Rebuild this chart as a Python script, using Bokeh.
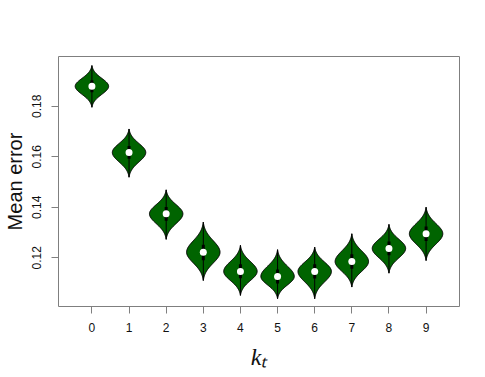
import numpy as np
from bokeh.plotting import figure
from bokeh.models import FixedTicker, Range1d
from bokeh.embed import file_html
from bokeh.resources import INLINE

# ---- data ----
k_values = [0, 1, 2, 3, 4, 5, 6, 7, 8, 9]
medians = [0.1879, 0.1617, 0.1374, 0.1222, 0.1146, 0.1126, 0.1146, 0.1185, 0.1237, 0.1295]
lows    = [0.1796, 0.1519, 0.1273, 0.1110, 0.1051, 0.1038, 0.1038, 0.1084, 0.1139, 0.1189]
highs   = [0.1961, 0.1710, 0.1469, 0.1341, 0.1249, 0.1232, 0.1242, 0.1295, 0.1332, 0.1400]
q1s     = [0.1855, 0.1592, 0.1347, 0.1190, 0.1119, 0.1098, 0.1118, 0.1156, 0.1210, 0.1266]
q3s     = [0.1903, 0.1643, 0.1401, 0.1252, 0.1174, 0.1154, 0.1174, 0.1214, 0.1264, 0.1324]
y_ticks = [0.12, 0.14, 0.16, 0.18]
y_tick_labels = ["0.12", "0.14", "0.16", "0.18"]

HALF_W = 0.45
GREEN = "#006400"

p = figure(frame_width=401, frame_height=250,
           output_backend="svg", toolbar_location=None,
           x_range=Range1d(-0.9, 9.9), y_range=Range1d(0.1007, 0.1997),
           min_border_left=56, min_border_top=56, min_border_right=20, min_border_bottom=63)

# violin outlines built from each violin's low/median/high
xs, ys = [], []
for k, lo, med, hi in zip(k_values, lows, medians, highs):
    s_up = (hi - med) / 2.6
    s_dn = (med - lo) / 2.6
    yy = np.linspace(lo, hi, 80)
    sig = np.where(yy >= med, s_up, s_dn)
    w = HALF_W * np.exp(-0.5 * ((yy - med) / sig) ** 2)
    w = w - w.min()
    w = w / w.max() * HALF_W
    xs.append(list(k + w) + list(k - w[::-1]))
    ys.append(list(yy) + list(yy[::-1]))

p.patches(xs, ys, fill_color=GREEN, line_color="black", line_width=1)
p.segment(x0=k_values, y0=lows, x1=k_values, y1=highs, line_color="black", line_width=1)
p.segment(x0=k_values, y0=q1s, x1=k_values, y1=q3s, line_color="black", line_width=3)
p.scatter(k_values, medians, size=7, fill_color="white", line_color=None)

# axes styling
p.xgrid.visible = False
p.ygrid.visible = False
p.outline_line_color = "#7f7f7f"
p.outline_line_width = 1
p.background_fill_color = "white"
p.border_fill_color = "white"

xa = p.xaxis[0]
xa.ticker = FixedTicker(ticks=k_values)
xa.axis_line_color = None
xa.major_tick_in = 0
xa.major_tick_out = 7
xa.major_tick_line_color = "#7f7f7f"
xa.minor_tick_line_color = None
xa.major_label_text_font = "Liberation Sans"
xa.major_label_text_font_size = "12px"
xa.major_label_text_color = "#111111"
xa.major_label_standoff = 9
xa.axis_label = "kₜ"
xa.axis_label_text_font = "Liberation Serif"
xa.axis_label_text_font_style = "italic"
xa.axis_label_text_font_size = "24px"
xa.axis_label_text_color = "#111111"
xa.axis_label_standoff = 9

ya = p.yaxis[0]
ya.ticker = FixedTicker(ticks=y_ticks)
ya.major_label_overrides = {t: l for t, l in zip(y_ticks, y_tick_labels)}
ya.axis_line_color = None
ya.major_tick_in = 0
ya.major_tick_out = 7
ya.major_tick_line_color = "#7f7f7f"
ya.minor_tick_line_color = None
ya.major_label_orientation = "vertical"
ya.major_label_text_font = "Liberation Sans"
ya.major_label_text_font_size = "12px"
ya.major_label_text_color = "#111111"
ya.major_label_standoff = 10
ya.axis_label = "Mean error"
ya.axis_label_text_font = "Liberation Sans"
ya.axis_label_text_font_style = "normal"
ya.axis_label_text_font_size = "20px"
ya.axis_label_text_color = "#111111"
ya.axis_label_standoff = 4

open("out.html", "w").write(file_html(p, INLINE))
